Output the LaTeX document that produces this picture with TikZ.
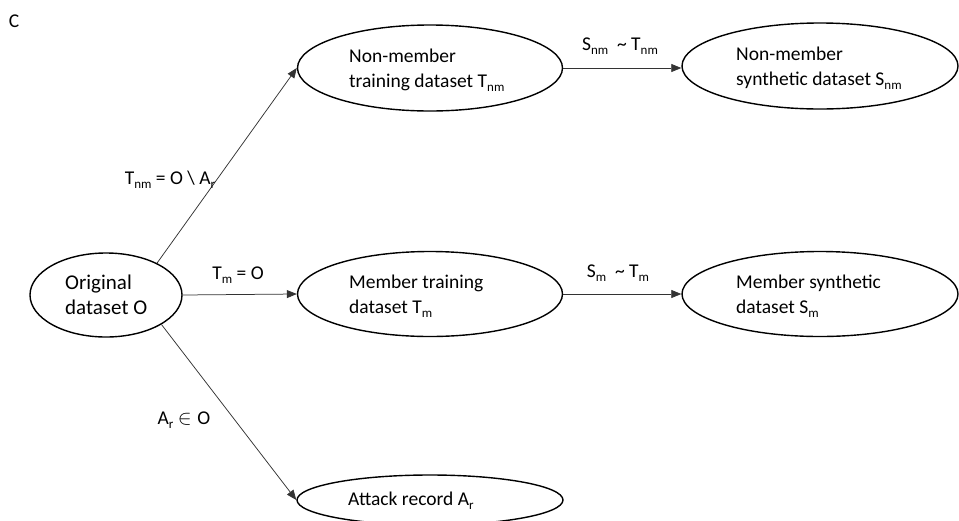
\documentclass[tikz,border=0pt]{standalone}
\usepackage{fontspec}
\setmainfont{Carlito}
\usetikzlibrary{shapes.geometric,arrows.meta}
\newcommand{\sbs}[1]{\raisebox{-0.2em}{\fontsize{13}{13}\selectfont #1}}
\tikzset{
  ell/.style={ellipse, draw=black, line width=1.4pt, inner sep=0pt},
  etext/.style={anchor=west, inner sep=0pt, align=left, font=\fontsize{19.5}{25}\selectfont},
  conn/.style={draw=black!80, line width=0.75pt, -{Triangle[length=10pt,width=8pt]}},
  lab/.style={inner sep=0pt, font=\fontsize{19.5}{24}\selectfont}
}
\begin{document}
\begin{tikzpicture}[x=1pt,y=-1pt]
\useasboundingbox (0,0) rectangle (959,520);
\clip (0,0) rectangle (959,520);
\node[lab] (c) at (14,21) {C};
\node[ell, minimum width=152pt, minimum height=84pt] (orig) at (106,295) {};
\node[ell, minimum width=265pt, minimum height=86pt] (nmt) at (430,68) {};
\node[ell, minimum width=276pt, minimum height=86pt] (nms) at (820,66) {};
\node[ell, minimum width=265pt, minimum height=85pt] (mt) at (430,294) {};
\node[ell, minimum width=276pt, minimum height=85pt] (ms) at (820,294) {};
\node[ell, minimum width=266pt, minimum height=50pt] (att) at (430,500) {};

\node[etext, font=\fontsize{21}{25}\selectfont] (origt) at (65,295) {Original\\dataset O};
\node[etext] (nmtt) at (349,70) {Non-member\\training dataset T\sbs{nm}};
\node[etext] (nmst) at (736,68) {Non-member\\synthetic dataset S\sbs{nm}};
\node[etext] (mtt) at (349,296) {Member training\\dataset T\sbs{m}};
\node[etext] (mst) at (736,296) {Member synthetic\\dataset S\sbs{m}};
\node[etext] (attt) at (348,501) {Attack record A\sbs{r}};

\draw[conn] (orig.32) -- (nmt.west);
\draw[conn] (orig.east) -- (mt.west);
\draw[conn] (orig.-28) -- (att.west);
\draw[conn] (nmt.east) -- (nmt.east -| nms.west);
\draw[conn] (mt.east) -- (ms.west);

\node[lab] (l1) at (170,180) {T\sbs{nm} = O \textbackslash{} A\sbs{r}};
\node[lab] (l2) at (238,275) {T\sbs{m} = O};
\node[lab] (l3) at (184,420) {A\sbs{r} $\in\mathrm{O}$};
\node[lab] (l4) at (620,46) {S\sbs{nm}\ \ \textasciitilde{} T\sbs{nm}};
\node[lab] (l5) at (618,273) {S\sbs{m}\ \ \textasciitilde{} T\sbs{m}};
\end{tikzpicture}
\end{document}
